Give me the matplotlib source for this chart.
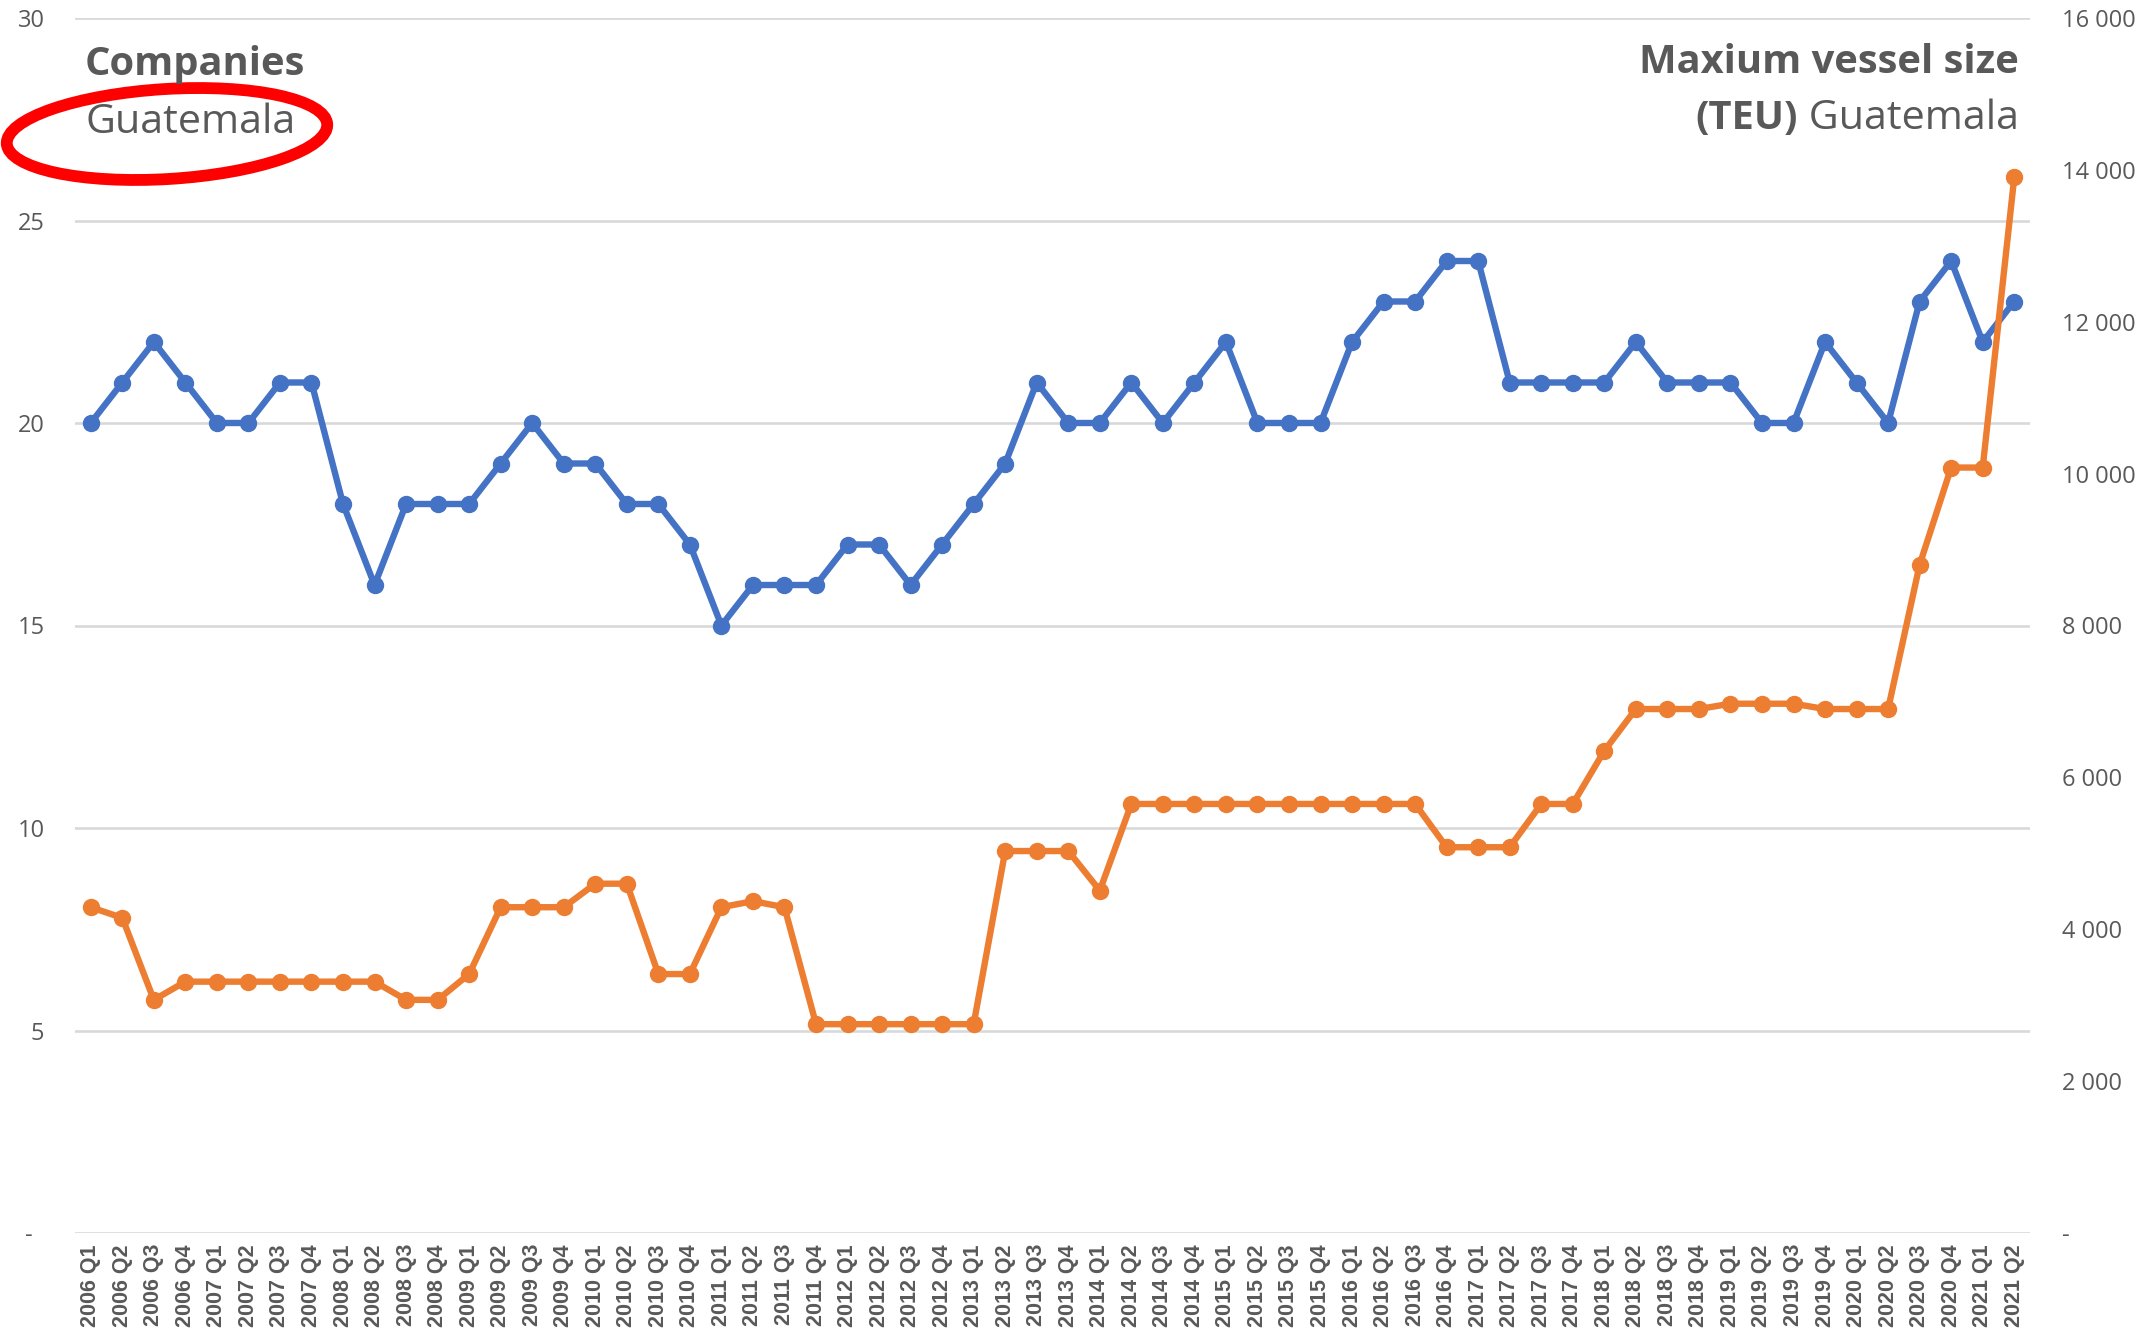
import matplotlib
matplotlib.use("Agg")
import matplotlib.pyplot as plt
import numpy as np
from matplotlib.patches import Ellipse
from matplotlib.transforms import IdentityTransform

# ---------------- data ----------------
years = list(range(2006, 2022))
quarters = [f"{y} Q{q}" for y in years for q in range(1, 5)][:62]

companies = [20, 21, 22, 21, 20, 20, 21, 21,
             18, 16, 18, 18,
             18, 19, 20, 19,
             19, 18, 18, 17,
             15, 16, 16, 16,
             17, 17, 16, 17,
             18, 19, 21, 20,
             20, 21, 20, 21,
             22, 20, 20, 20,
             22, 23, 23, 24,
             24, 21, 21, 21,
             21, 22, 21, 21,
             21, 20, 20, 22,
             21, 20, 23, 24,
             22, 23]

vessel_teu = [4290, 4150, 3070, 3310, 3310, 3310, 3310, 3310,
              3310, 3310, 3070, 3070,
              3410, 4290, 4290, 4290,
              4600, 4600, 3410, 3410,
              4290, 4370, 4290, 2750,
              2750, 2750, 2750, 2750,
              2750, 5030, 5030, 5030,
              4510, 5650, 5650, 5650,
              5650, 5650, 5650, 5650,
              5650, 5650, 5650, 5080,
              5080, 5080, 5650, 5650,
              6350, 6900, 6900, 6900,
              6970, 6970, 6970, 6900,
              6900, 6900, 8800, 10080,
              10080, 13900]

left_ticks = [0, 5, 10, 15, 20, 25, 30]
left_ticklabels = ["-  ", "5", "10", "15", "20", "25", "30"]
right_ticks = [0, 2000, 4000, 6000, 8000, 10000, 12000, 14000, 16000]
right_ticklabels = ["-", "2 000", "4 000", "6 000", "8 000", "10 000", "12 000", "14 000", "16 000"]

# ---------------- figure ----------------
W, H = 2144, 1336
fig = plt.figure(figsize=(W / 100, H / 100), dpi=100)
L, R, T, B = 75, 2030, 18, 1233
ax = fig.add_axes([L / W, 1 - B / H, (R - L) / W, (B - T) / H])
ax2 = ax.twinx()

TXT = "#595959"
BLUE = "#4472C4"
ORANGE = "#ED7D31"

x = np.arange(len(quarters))
ax.plot(x, companies, color=BLUE, lw=4.6, marker="o", ms=11.5,
        solid_joinstyle="round", solid_capstyle="round", zorder=3)
ax2.plot(x, vessel_teu, color=ORANGE, lw=4.6, marker="o", ms=11.5,
         solid_joinstyle="round", solid_capstyle="round", zorder=3)

ax.set_xlim(-0.5, len(quarters) - 0.5)
ax.set_ylim(0, 30)
ax2.set_ylim(0, 16000)

ax.set_yticks(left_ticks)
ax.set_yticklabels(left_ticklabels, fontsize=17, color=TXT, fontfamily="Open Sans")
ax2.set_yticks(right_ticks)
ax2.set_yticklabels(right_ticklabels, fontsize=17, color=TXT, fontfamily="Open Sans")

ax.set_xticks(x)
ax.set_xticklabels(quarters, rotation=90, fontsize=15.5, color=TXT,
                   fontfamily="Liberation Sans", fontweight="bold")

ax.yaxis.grid(True, color="#D9D9D9", lw=1.9)
ax.set_axisbelow(True)
for a in (ax, ax2):
    for s in a.spines.values():
        s.set_visible(False)
ax.tick_params(axis="both", length=0)
ax.tick_params(axis="y", pad=22)
ax.tick_params(axis="x", pad=8)
ax2.tick_params(axis="y", length=0, pad=23)

# ---------------- titles ----------------
def fx(px):
    return px / W

def fy(py):
    return 1 - py / H

fig.text(fx(85), fy(75), "Companies", fontsize=28.7, fontweight="bold", color=TXT,
         fontfamily="Open Sans", va="baseline", ha="left")
fig.text(fx(85), fy(133), "Guatemala", fontsize=29.7, color=TXT,
         fontfamily="Open Sans", va="baseline", ha="left")

fig.text(fx(2019), fy(73), "Maxium vessel size", fontsize=28.7, fontweight="bold",
         color=TXT, fontfamily="Open Sans", va="baseline", ha="right")
t2 = fig.text(fx(2019), fy(129), " Guatemala", fontsize=29.7, color=TXT,
              fontfamily="Open Sans", va="baseline", ha="right")
fig.canvas.draw()
bb = t2.get_window_extent(renderer=fig.canvas.get_renderer())
fig.text(bb.x0 / W, fy(129), "(TEU)", fontsize=28.7, fontweight="bold", color=TXT,
         fontfamily="Open Sans", va="baseline", ha="right")

# red ellipse annotation (pixel coordinates)
ell = Ellipse((167, H - 134), 321, 90, angle=3.5, fill=False, edgecolor="#FF0000",
              lw=8.5, transform=IdentityTransform())
fig.add_artist(ell)

fig.savefig("out.png", dpi=100)
